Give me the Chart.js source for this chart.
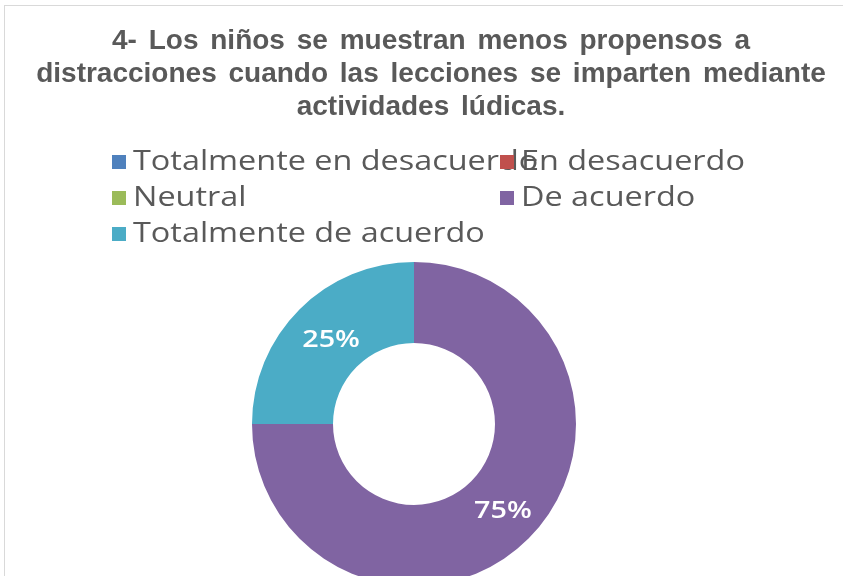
<!DOCTYPE html>
<html>
<head>
<meta charset="utf-8">
<script src="https://cdn.jsdelivr.net/npm/chart.js@4.4.1/dist/chart.umd.min.js"></script>
<style>
  html, body { margin: 0; padding: 0; background: #fff; overflow: hidden; }
  #wrap { position: relative; width: 843px; height: 576px; overflow: hidden; }
  #frame { position: absolute; left: 4px; top: 5px; width: 900px; height: 700px; border: 1px solid #d9d9d9; box-sizing: border-box; }
  #title { position: absolute; left: 0; top: 23px; width: 862px; text-align: center;
    font-family: "Liberation Sans", Arial, sans-serif; font-weight: bold; font-size: 28px;
    line-height: 33px; color: #595959; word-spacing: 4px; }
  #title span { display: inline-block; white-space: nowrap; }
  #legend { position: absolute; left: 112px; top: 142px; width: 700px;
    font-family: "Open Sans", sans-serif; font-size: 27px; color: #595959; }
  .item { position: absolute; white-space: nowrap; height: 36px; line-height: 36px; }
  .box { position: relative; z-index: 2; display: inline-block; width: 14px; height: 14px; margin-right: 7px; vertical-align: 1px; }
  .txt { display: inline-block; transform: scaleX(1.2); transform-origin: left center; }
  #c { position: absolute; left: 0; top: 0; }
</style>
</head>
<body>
<div id="wrap">
  <div id="frame"></div>
  <canvas id="c" width="843" height="610"></canvas>
  <div id="title"></div>
  <div id="legend"></div>
</div>
<script>
const titleLines = [
  '4- Los niños se muestran menos propensos a',
  'distracciones cuando las lecciones se imparten mediante',
  'actividades lúdicas.'
];
const categories = ['Totalmente en desacuerdo', 'En desacuerdo', 'Neutral', 'De acuerdo', 'Totalmente de acuerdo'];
const percentages = [0, 0, 0, 75, 25];
const colors = ['#4F81BD', '#C0504D', '#9BBB59', '#8064A2', '#4BACC6'];

document.getElementById('title').innerHTML = titleLines.map(t => '<span>' + t + '</span>').join('<br>');

// value labels inside the ring
const sliceLabels = {
    id: 'sliceLabels',
    afterDatasetsDraw(chart) {
        const ctx = chart.ctx;
        const meta = chart.getDatasetMeta(0);
        meta.data.forEach((arc, i) => {
            const v = chart.data.datasets[0].data[i];
            if (!v) return;
            const p = arc.tooltipPosition();
            ctx.save();
            ctx.translate(p.x + 3, p.y + 2);
            ctx.scale(1.25, 1);
            ctx.fillStyle = '#ffffff';
            ctx.font = '600 23px "Open Sans", sans-serif';
            ctx.textAlign = 'center';
            ctx.textBaseline = 'middle';
            ctx.fillText(v + '%', 0, 0);
            ctx.restore();
        });
    }
};

const chart = new Chart(document.getElementById('c'), {
    type: 'doughnut',
    data: {
        labels: categories,
        datasets: [{
            data: percentages,
            backgroundColor: colors,
            borderWidth: 0
        }]
    },
    options: {
        responsive: false,
        animation: false,
        cutout: '50%',
        layout: { padding: { top: 262, bottom: 24, left: 0, right: 15 } },
        plugins: {
            legend: { display: false },
            tooltip: { enabled: false }
        }
    },
    plugins: [sliceLabels]
});

// two-column legend built from the chart labels
const legend = document.getElementById('legend');
chart.data.labels.forEach((label, i) => {
    const el = document.createElement('div');
    el.className = 'item';
    el.style.left = (i % 2) * 388 + 'px';
    el.style.top = Math.floor(i / 2) * 36 + 'px';
    el.innerHTML = '<span class="box" style="background:' + colors[i] + '"></span><span class="txt">' + label + '</span>';
    legend.appendChild(el);
});
</script>
</body>
</html>
